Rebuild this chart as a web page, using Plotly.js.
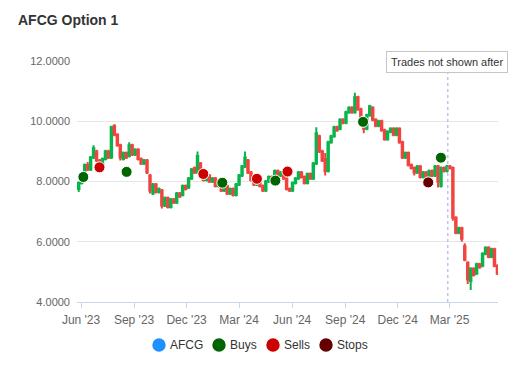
<!DOCTYPE html>
<html>
<head>
<meta charset="utf-8">
<script src="https://cdn.plot.ly/plotly-3.0.1.min.js"></script>
<style>html,body{margin:0;padding:0;background:#fff;}#chart{width:530px;height:380px;}</style>
</head>
<body>
<div id="chart"></div>
<script>
// Candle values (AFCG), evenly spaced from firstDate to lastDate
const firstDate = '2023-05-28';
const lastDate = '2025-05-23';
const openV = [7.75,7.95,8.25,8.55,8.4,8.8,9.0,8.7,8.45,8.75,9.0,8.8,9.85,9.55,9.2,8.75,8.95,8.85,9.2,8.9,9.05,8.75,8.6,8.7,8.2,7.6,7.9,7.65,7.7,7.2,7.45,7.15,7.4,7.3,7.6,7.55,7.85,7.8,8.1,8.45,8.3,8.6,8.15,8.05,8.2,8.0,8.1,7.85,7.95,7.7,7.85,7.6,7.75,7.55,7.9,8.2,8.5,8.7,8.3,8.05,7.9,8.0,7.85,7.7,8.0,8.15,8.05,8.35,8.2,8.3,8.1,7.75,7.7,7.95,8.1,8.3,8.15,7.95,8.25,8.1,8.6,9.5,9.0,8.75,8.35,9.3,9.5,9.8,9.75,10.05,9.95,10.3,10.45,10.3,10.8,10.4,9.9,9.75,10.2,10.45,10.05,9.85,10.0,9.7,9.4,9.65,9.75,9.55,9.75,9.3,8.8,8.95,8.55,8.45,8.3,8.5,8.15,8.3,8.05,8.35,8.2,8.5,7.85,8.45,8.35,8.5,8.45,6.8,6.3,6.45,5.85,5.3,4.7,5.1,4.95,5.25,5.2,5.6,5.8,5.5,5.75,5.2];
const highV = [8.0,8.3,8.6,8.65,8.85,9.2,9.05,8.75,8.8,9.05,9.05,9.85,9.9,9.6,9.25,9.0,9.0,9.3,9.25,9.1,9.1,8.8,8.75,8.75,8.25,7.95,7.95,7.8,7.75,7.5,7.5,7.45,7.45,7.65,7.65,7.9,7.9,8.15,8.45,8.5,9.0,8.65,8.2,8.25,8.25,8.15,8.15,8.0,8.0,7.9,7.9,7.8,7.8,7.95,8.25,8.55,9.0,8.75,8.35,8.1,8.05,8.05,7.9,8.05,8.2,8.2,8.4,8.4,8.35,8.35,8.15,7.8,8.0,8.15,8.35,8.35,8.2,8.3,8.3,8.65,9.8,9.55,9.05,8.95,9.35,9.55,9.85,9.85,10.1,10.1,10.35,10.5,10.5,10.95,10.85,10.45,9.95,10.25,10.55,10.5,10.1,10.05,10.05,9.75,9.7,9.8,9.8,9.8,9.8,9.35,9.0,9.0,8.6,8.5,8.55,8.55,8.35,8.35,8.4,8.4,8.55,8.55,8.5,8.5,8.55,8.55,8.5,6.85,6.5,6.5,5.95,5.35,5.15,5.15,5.3,5.3,5.65,5.85,5.85,5.8,5.8,5.25];
const lowV = [7.65,7.9,8.2,8.35,8.35,8.75,8.65,8.4,8.4,8.7,8.75,8.75,9.5,9.15,8.7,8.7,8.75,8.8,8.85,8.85,8.7,8.55,8.55,8.25,7.6,7.55,7.6,7.6,7.1,7.15,7.1,7.1,7.25,7.25,7.45,7.5,7.7,7.75,8.05,8.25,8.25,8.1,8.0,8.0,7.95,7.95,7.8,7.8,7.65,7.65,7.55,7.55,7.5,7.5,7.85,8.15,8.45,8.25,8.0,7.85,7.85,7.8,7.65,7.65,7.95,8.0,8.0,8.15,8.15,8.05,7.7,7.65,7.65,7.9,8.05,8.1,7.9,7.9,8.05,8.05,8.55,8.95,8.65,8.2,8.3,9.25,9.45,9.65,9.7,9.9,9.9,10.25,10.25,10.25,10.35,9.85,9.6,9.7,10.15,10.0,9.8,9.8,9.65,9.35,9.35,9.6,9.5,9.5,9.25,8.75,8.75,8.5,8.4,8.2,8.25,8.1,8.1,8.0,8.0,8.15,8.15,7.8,7.8,8.3,8.3,8.4,6.7,6.25,6.25,6.0,5.35,4.6,4.4,4.85,4.9,5.1,5.15,5.55,5.45,5.45,5.15,4.9];
const closeV = [7.95,8.25,8.55,8.4,8.8,9.1,8.7,8.45,8.75,9.0,8.8,9.8,9.55,9.2,8.8,8.95,8.8,9.2,8.9,9.05,8.75,8.6,8.7,8.3,7.7,7.9,7.65,7.75,7.2,7.45,7.15,7.4,7.3,7.6,7.5,7.85,7.75,8.1,8.4,8.3,8.85,8.15,8.05,8.2,8.0,8.1,7.85,7.95,7.7,7.85,7.6,7.75,7.55,7.9,8.2,8.5,8.8,8.3,8.05,7.9,8.0,7.85,7.7,8.0,8.15,8.05,8.35,8.2,8.3,8.1,7.75,7.7,7.95,8.1,8.3,8.15,7.95,8.25,8.1,8.6,9.6,9.0,8.7,8.35,9.3,9.5,9.8,9.7,10.05,9.95,10.3,10.45,10.3,10.8,10.4,9.9,9.75,10.2,10.5,10.05,9.85,10.0,9.7,9.4,9.65,9.75,9.55,9.75,9.3,8.8,8.95,8.55,8.45,8.3,8.5,8.15,8.3,8.05,8.35,8.2,8.5,8.0,8.45,8.35,8.5,8.45,6.8,6.3,6.45,6.1,5.4,4.75,5.1,4.9,5.25,5.15,5.6,5.8,5.5,5.75,5.2,4.95];

// Trade markers
const buyDates = ['2023-06-05','2023-08-19','2024-02-01','2024-05-03','2024-10-02','2025-02-14'];
const buyPrices = [8.15,8.32,7.96,8.03,9.98,8.79];
const sellDates = ['2023-07-03','2023-12-30','2024-04-01','2024-05-24'];
const sellPrices = [8.47,8.25,8.09,8.33];
const stopDates = ['2025-01-23'];
const stopPrices = [7.97];
const cutoffDate = '2025-02-26';

// Legend entries
const legendNames = ['AFCG', 'Buys', 'Sells', 'Stops'];
const legendColors = ['#1e90ff', '#006400', '#cc0000', '#660000'];

const t0 = Date.parse(firstDate + 'T00:00:00Z');
const t1 = Date.parse(lastDate + 'T00:00:00Z');
const step = (t1 - t0) / (openV.length - 1);
const dates = openV.map((_, i) => new Date(t0 + i * step).toISOString().slice(0, 16).replace('T', ' '));

const G = '#08b54c', R = '#f2433f';
const FONT = '"Liberation Sans", Arial, sans-serif';

const traces = [
  {type:'candlestick', x:dates, open:openV, high:highV, low:lowV, close:closeV, name:'AFCG',
   showlegend:false, whiskerwidth:0, hoverinfo:'skip',
   increasing:{line:{color:G, width:2}, fillcolor:G},
   decreasing:{line:{color:R, width:2}, fillcolor:R}},
  {type:'scatter', mode:'markers', x:buyDates, y:buyPrices, name:'Buys', showlegend:false,
   marker:{color:legendColors[1], size:11, line:{color:'#fff', width:1}}},
  {type:'scatter', mode:'markers', x:sellDates, y:sellPrices, name:'Sells', showlegend:false,
   marker:{color:legendColors[2], size:11, line:{color:'#fff', width:1}}},
  {type:'scatter', mode:'markers', x:stopDates, y:stopPrices, name:'Stops', showlegend:false,
   marker:{color:legendColors[3], size:11, line:{color:'#fff', width:1}}}
];

// plot area in pixels: x 77..498, y 61..302
const PL = 77, PW = 421, PT = 61, PH = 241;
const px = v => (v - PL) / PW;
const py = v => (PT + PH - v) / PH;
const legendX = [159, 219, 273, 326];
const legendY = 345;

const shapes = [{type:'line', xref:'x', yref:'paper', x0:cutoffDate, x1:cutoffDate, y0:0, y1:1,
                 line:{color:'#a3a3e0', width:1, dash:'dot'}}];
const annotations = [{text:'Trades not shown after', xref:'paper', yref:'paper', x:px(386), xanchor:'left',
                y:py(51), yanchor:'top', showarrow:false, bgcolor:'#fff', bordercolor:'#c6c6c6',
                borderwidth:1, borderpad:4, font:{family:FONT, size:11, color:'#333'}}];
legendNames.forEach((n, i) => {
  shapes.push({type:'circle', xref:'paper', yref:'paper', xsizemode:'pixel', ysizemode:'pixel',
               xanchor:px(legendX[i]), yanchor:py(legendY), x0:-6.7, x1:6.7, y0:-6.7, y1:6.7,
               fillcolor:legendColors[i], line:{width:0}});
  annotations.push({text:n, xref:'paper', yref:'paper', x:px(legendX[i] + 8.5), xanchor:'left',
                    y:py(legendY), yanchor:'middle', showarrow:false,
                    font:{family:FONT, size:12, color:'#333'}});
});

const layout = {
  width:530, height:380,
  margin:{l:PL, r:530-PL-PW, t:PT, b:380-PT-PH},
  paper_bgcolor:'#fff', plot_bgcolor:'#fff',
  font:{family:FONT, color:'#333'},
  title:{text:'AFCG Option 1', x:18/530, xanchor:'left', xref:'container', y:1-20/380, yanchor:'middle', yref:'container',
         font:{family:FONT, size:14, color:'#333', weight:'bold'}},
  showlegend:false,
  xaxis:{type:'date', range:['2023-05-25','2025-05-24'], rangeslider:{visible:false},
         tick0:'2023-06-01', dtick:'M3', tickformat:"%b '%y",
         showgrid:false, showline:true, linecolor:'#ccd6eb', linewidth:1,
         ticks:'outside', ticklen:5, tickcolor:'#ccd6eb', tickwidth:1, ticklabelstandoff:2,
         tickfont:{family:FONT, size:12, color:'#666'}, zeroline:false, fixedrange:true},
  yaxis:{range:[4,12], dtick:2, tick0:0, tickformat:'.4f', showgrid:true, gridcolor:'#e6e6e6', gridwidth:1,
         showline:false, zeroline:false, ticks:'', ticklabelstandoff:6,
         tickfont:{family:FONT, size:11, color:'#666'}, fixedrange:true},
  shapes:shapes,
  annotations:annotations
};

Plotly.newPlot('chart', traces, layout, {displayModeBar:false, staticPlot:true});
</script>
</body>
</html>
